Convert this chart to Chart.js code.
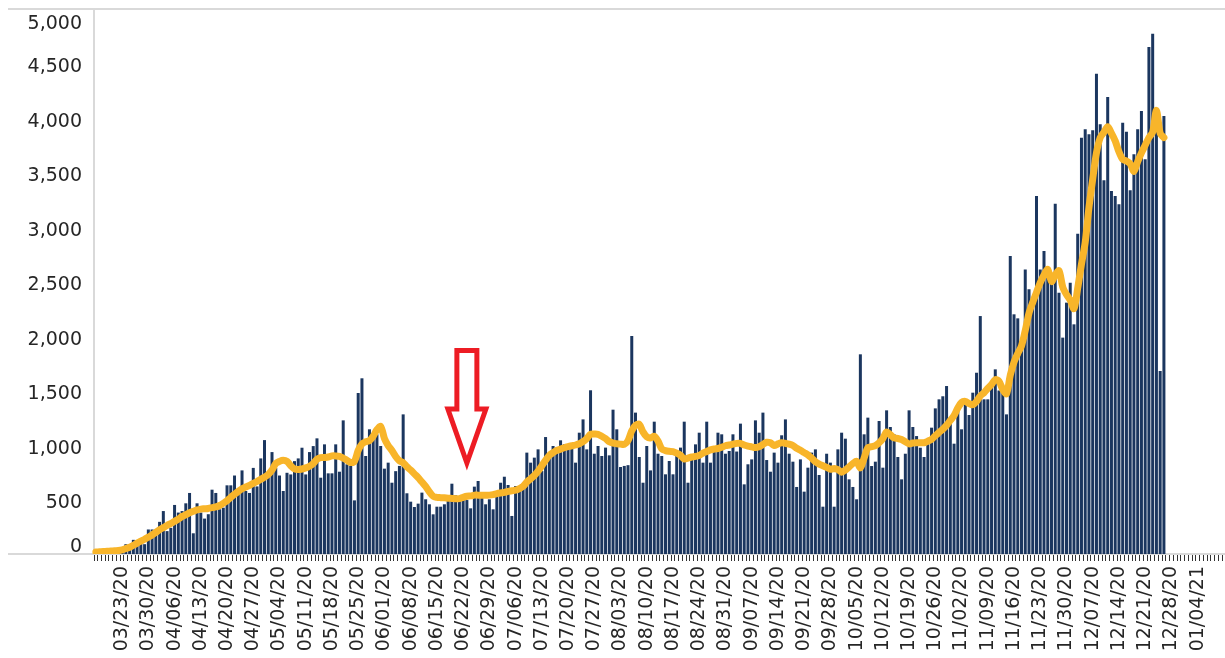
<!DOCTYPE html>
<html>
<head>
<meta charset="utf-8">
<script src="https://cdn.jsdelivr.net/npm/chart.js@4/dist/chart.umd.min.js"></script>
<style>
  html, body { margin: 0; padding: 0; background: #fff; }
  #wrap { width: 1225px; height: 658px; }
</style>
</head>
<body>
<div id="wrap"><canvas id="chart" width="1225" height="658"></canvas></div>
<script>
// first day on the axis and how many days the axis holds (axis runs past the data)
const firstDay = [2020, 2, 16]
const dayCount = 301

// labels shown under the axis, one per week
const weekTicks = ['03/23/20', '03/30/20', '04/06/20', '04/13/20', '04/20/20', '04/27/20',
  '05/04/20', '05/11/20', '05/18/20', '05/25/20', '06/01/20', '06/08/20', '06/15/20',
  '06/22/20', '06/29/20', '07/06/20', '07/13/20', '07/20/20', '07/27/20', '08/03/20',
  '08/10/20', '08/17/20', '08/24/20', '08/31/20', '09/07/20', '09/14/20', '09/21/20',
  '09/28/20', '10/05/20', '10/12/20', '10/19/20', '10/26/20', '11/02/20', '11/09/20',
  '11/16/20', '11/23/20', '11/30/20', '12/07/20', '12/14/20', '12/21/20', '12/28/20',
  '01/04/21']

// daily counts (bars), from 03/16/20
const dailyCases = [
  10, 15, 20, 30, 35, 40, 50, 55, 90, 75,
  130, 125, 140, 90, 225, 225, 180, 295, 394, 210,
  240, 450, 380, 394, 465, 560, 190, 465, 380, 325,
  365, 590, 560, 410, 425, 630, 630, 720, 560, 767,
  578, 560, 790, 620, 877, 1045, 745, 935, 790, 720,
  578, 745, 730, 852, 877, 975, 730, 935, 990, 1061,
  700, 1006, 740, 740, 1006, 755, 1226, 823, 808, 492,
  1477, 1612, 899, 1144, 1052, 1098, 991, 783, 838, 654,
  760, 808, 1281, 557, 480, 431, 462, 563, 502, 456,
  364, 434, 434, 456, 502, 645, 538, 486, 502, 495,
  419, 618, 670, 517, 456, 502, 410, 532, 654, 709,
  633, 349, 624, 609, 639, 930, 838, 884, 960, 761,
  1073, 884, 991, 976, 1043, 1006, 1006, 976, 838, 1113,
  1235, 960, 1502, 920, 991, 899, 976, 905, 1324, 1144,
  798, 808, 815, 2000, 1297, 890, 654, 991, 767, 1214,
  920, 899, 731, 853, 731, 899, 976, 1214, 654, 907,
  1006, 1113, 838, 1214, 838, 935, 1113, 1098, 920, 945,
  1098, 940, 1196, 639, 823, 868, 1226, 1113, 1297, 862,
  755, 930, 838, 1089, 1235, 920, 847, 615, 868, 572,
  792, 930, 960, 725, 434, 920, 838, 434, 960, 1113,
  1058, 685, 615, 502, 1832, 1098, 1251, 807, 847, 1220,
  792, 1318, 1165, 1098, 890, 685, 920, 1318, 1165, 1082,
  975, 890, 1031, 1159, 1336, 1419, 1447, 1541, 1199, 1012,
  1318, 1144, 1373, 1275, 1480, 1663, 2183, 1419, 1419, 1572,
  1694, 1500, 1495, 1281, 2734, 2199, 2162, 1908, 2611, 2428,
  2352, 3284, 2611, 2780, 2566, 2566, 3214, 2397, 1985, 2306,
  2489, 2107, 2939, 3819, 3896, 3850, 3887, 4407, 3942, 3428,
  4192, 3330, 3284, 3208, 3957, 3874, 3337, 3667, 3896, 4064,
  3621, 4651, 4773, 3950, 1679, 4018
]

// the orange average line
const avgLine = [
  18, 20, 22, 25, 27, 30, 32, 38, 50, 62,
  80, 100, 118, 135, 155, 175, 198, 222, 242, 262,
  280, 300, 320, 345, 360, 378, 392, 405, 412, 415,
  418, 425, 432, 445, 465, 488, 520, 548, 575, 598,
  615, 630, 648, 665, 685, 705, 730, 770, 830, 850,
  860, 850, 810, 780, 775, 780, 790, 805, 830, 870,
  884, 886, 890, 900, 900, 895, 880, 860, 840, 850,
  950, 1010, 1030, 1040, 1080, 1140, 1170, 1060, 995, 950,
  895, 855, 838, 800, 770, 735, 700, 660, 620, 570,
  530, 520, 517, 515, 512, 510, 508, 508, 520, 530,
  533, 540, 540, 540, 538, 540, 545, 554, 560, 565,
  575, 580, 585, 600, 620, 660, 690, 720, 760, 810,
  860, 905, 930, 950, 962, 975, 985, 993, 1000, 1012,
  1030, 1060, 1098, 1100, 1098, 1080, 1060, 1030, 1018, 1012,
  1008, 1006, 1040, 1130, 1180, 1190, 1120, 1075, 1065, 1080,
  1037, 965, 948, 942, 939, 925, 905, 872, 880, 890,
  895, 905, 925, 940, 955, 963, 968, 980, 993, 1000,
  1008, 1015, 1015, 1000, 990, 983, 977, 985, 1005, 1025,
  1020, 995, 1010, 1020, 1015, 1008, 995, 970, 952, 930,
  910, 880, 847, 825, 810, 795, 778, 785, 775, 750,
  770, 800, 830, 850, 790, 880, 975, 985, 995, 1020,
  1060, 1120, 1095, 1065, 1060, 1050, 1030, 1010, 1018, 1021,
  1021, 1021, 1035, 1052, 1085, 1115, 1145, 1180, 1225, 1270,
  1340, 1390, 1400, 1380, 1370, 1400, 1450, 1480, 1520, 1555,
  1600, 1585, 1508, 1470, 1640, 1760, 1840, 1910, 2050, 2210,
  2310, 2400, 2490, 2560, 2610, 2500, 2560, 2600, 2450, 2380,
  2330, 2250, 2440, 2660, 2860, 3180, 3440, 3680, 3820, 3870,
  3920, 3860, 3790, 3690, 3620, 3605, 3580, 3510, 3600, 3680,
  3750, 3820, 3870, 4070, 3860, 3820
]

// red arrow note: date it points at and its extent in axis units
const arrowDate = '06/23/20'
const arrowTip = 835
const arrowNeck = 1330
const arrowTop = 1867

function pad2(n){ return (n < 10 ? '0' : '') + n }

let days = []
for (let k = 0; k < dayCount; k++) {
  let d = new Date(firstDay[0], firstDay[1], firstDay[2] + k)
  days.push(pad2(d.getMonth() + 1) + '/' + pad2(d.getDate()) + '/' + String(d.getFullYear()).slice(2))
}

const fontFamily = '"DejaVu Sans", Verdana, sans-serif'
const textColor = '#262626'
const frameColor = '#d9d9d9'

// grey lines at top and bottom run the whole width, like the original sheet
const framePlugin = {
  id: 'frameLines',
  beforeDatasetsDraw(chart) {
    const ctx = chart.ctx
    const y = chart.scales.y
    ctx.save()
    ctx.strokeStyle = frameColor
    ctx.lineWidth = 2
    ;[y.max, y.min].forEach(v => {
      const py = Math.round(y.getPixelForValue(v))
      ctx.beginPath()
      ctx.moveTo(8, py)
      ctx.lineTo(chart.width, py)
      ctx.stroke()
    })
    ctx.restore()
  }
}

const arrowPlugin = {
  id: 'arrowNote',
  afterDatasetsDraw(chart) {
    const ctx = chart.ctx
    const xs = chart.scales.x, ys = chart.scales.y
    const cx = xs.getPixelForValue(days.indexOf(arrowDate))
    const tip = ys.getPixelForValue(arrowTip)
    const neck = ys.getPixelForValue(arrowNeck)
    const top = ys.getPixelForValue(arrowTop)
    const shaft = 10, head = 19
    ctx.save()
    ctx.beginPath()
    ctx.moveTo(cx - shaft, top)
    ctx.lineTo(cx + shaft, top)
    ctx.lineTo(cx + shaft, neck)
    ctx.lineTo(cx + head, neck)
    ctx.lineTo(cx, tip)
    ctx.lineTo(cx - head, neck)
    ctx.lineTo(cx - shaft, neck)
    ctx.closePath()
    ctx.fillStyle = '#ffffff'
    ctx.fill()
    ctx.lineWidth = 5
    ctx.lineJoin = 'miter'
    ctx.strokeStyle = '#ed1c24'
    ctx.stroke()
    ctx.restore()
  }
}

let chart = new Chart(document.getElementById('chart'), {
  type: 'bar',
  data: {
    labels: days,
    datasets: [
      {
        type: 'line',
        data: avgLine,
        borderColor: '#f8b52a',
        borderWidth: 7,
        pointRadius: 0,
        tension: 0.3,
        borderJoinStyle: 'round',
        borderCapStyle: 'round',
        order: 0
      },
      {
        type: 'bar',
        data: dailyCases,
        backgroundColor: '#1b365f',
        barPercentage: 0.8,
        categoryPercentage: 1,
        order: 1
      }
    ]
  },
  options: {
    responsive: false,
    animation: false,
    devicePixelRatio: 1,
    layout: { padding: { top: 9, right: 3, bottom: 0, left: 0 } },
    plugins: {
      legend: { display: false },
      tooltip: { enabled: false }
    },
    scales: {
      x: {
        grid: {
          display: true,
          drawOnChartArea: false,
          drawTicks: true,
          tickLength: 7,
          color: '#333333',
          lineWidth: 1,
          offset: true
        },
        border: { display: true, color: frameColor, width: 2 },
        ticks: {
          autoSkip: false,
          minRotation: 90,
          maxRotation: 90,
          padding: 5,
          color: textColor,
          font: { family: fontFamily, size: 19 },
          callback: function(value, index) {
            return weekTicks.includes(days[index]) ? days[index] : ''
          }
        },
        // no extra room for the last label, the plot runs to the edge
        afterFit(scale) {
          scale.height = 104
          scale.paddingLeft = 0
          scale.paddingRight = 0
        }
      },
      y: {
        min: 0,
        max: 5000,
        grid: { display: false, drawTicks: false },
        border: { display: true, color: frameColor, width: 2 },
        ticks: {
          stepSize: 500,
          padding: 12,
          labelOffset: 4,
          color: textColor,
          font: { family: fontFamily, size: 19 },
          // end labels sit inside the plot, as in the sheet
          callback: v => {
            let s = v.toLocaleString('en-US')
            if (v === 5000) return ['', s]
            if (v === 0) return [s, '']
            return s
          }
        },
        afterFit(scale) {
          scale.width = 94
          scale.paddingTop = 0
          scale.paddingBottom = 0
        }
      }
    }
  },
  plugins: [framePlugin, arrowPlugin]
})
</script>
</body>
</html>
